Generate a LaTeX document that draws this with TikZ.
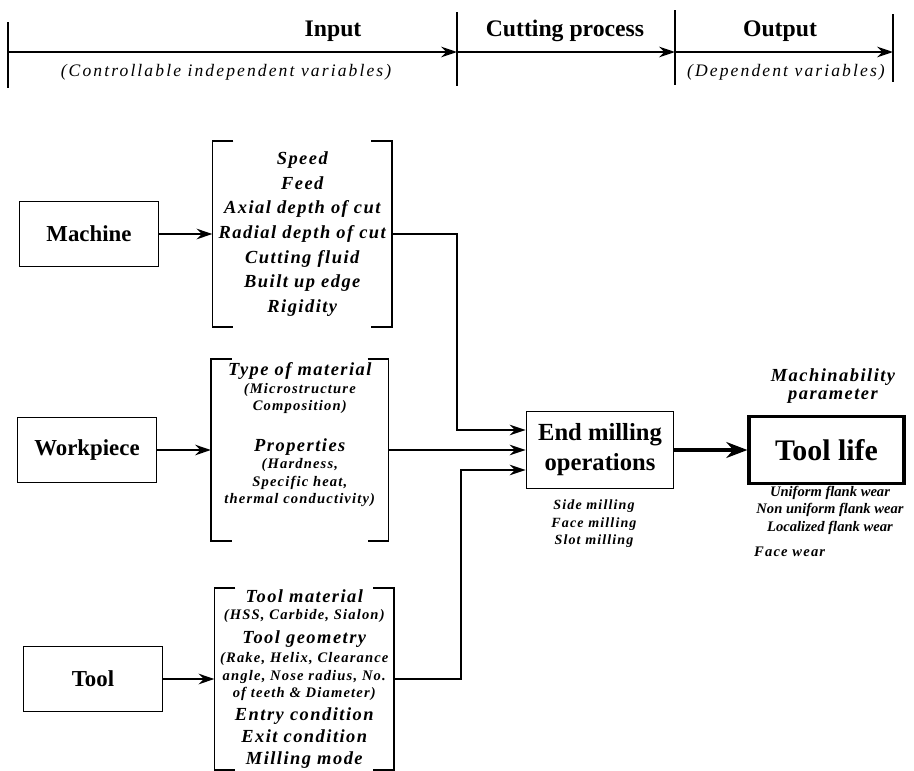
\documentclass[tikz,border=0pt]{standalone}
\usepackage{fontspec}
\setmainfont{Liberation Serif}
\newfontfamily\spacedfont{Liberation Serif}[LetterSpace=8]
\newfontfamily\widefont{Liberation Serif}[LetterSpace=12]
\usetikzlibrary{positioning, arrows.meta, calc}
\tikzset{
  block/.style={rectangle, draw=black, line width=1.1pt, minimum width=2.78cm, minimum height=1.3cm, text centered, font=\fontsize{13}{15}\selectfont\bfseries},
  varlist/.style={rectangle, minimum width=3.58cm, minimum height=3.7cm, inner sep=0pt, align=center, font=\spacedfont\bfseries\itshape\fontsize{10.5}{10}\selectfont},
  header/.style={font=\fontsize{13.5}{15}\selectfont\bfseries},
  subheader/.style={font=\widefont\fontsize{10}{11}\selectfont\itshape},
  note/.style={align=center, font=\spacedfont\fontsize{8}{10}\selectfont\bfseries\itshape},
  bracketline/.style={line width=1pt},
  arrow/.style={line width=1pt, -{Stealth[length=9pt, width=6pt]}},
  bigarrow/.style={line width=2.2pt, -{Stealth[length=12pt, width=9pt]}}
}
\newcommand{\itm}{\fontsize{10.5}{14}\selectfont}
\newcommand{\subtxt}{\fontsize{8.3}{9.6}\selectfont}
\newcommand{\sqbrackets}[1]{%
  \draw[bracketline] ([xshift=0.42cm]#1.north west) -- (#1.north west) -- (#1.south west) -- ++(0.42cm,0);
  \draw[bracketline] ([xshift=-0.42cm]#1.north east) -- (#1.north east) -- (#1.south east) -- ++(-0.42cm,0);}

\begin{document}
\begin{tikzpicture}[x=0.02cm, y=-0.02cm]
    \useasboundingbox (0,0) rectangle (914,771);

    % header
    \coordinate (h0) at (8,52);
    \coordinate (h1) at (457,52);
    \coordinate (h2) at (675,52);
    \coordinate (h3) at (893,52);
    \draw[line width=1.2pt, -{Stealth[length=9pt, width=6pt]}] (h0) -- (h1);
    \draw[line width=1.2pt, -{Stealth[length=9pt, width=6pt]}] (h1) -- (h2);
    \draw[line width=1.2pt, -{Stealth[length=9pt, width=6pt]}] (h2) -- (h3);
    \draw[line width=1pt] (8,22) -- (8,88);
    \draw[line width=1pt] (457,12) -- (457,86);
    \draw[line width=1pt] (675,10) -- (675,85);
    \draw[line width=1pt] (893,14) -- (893,82);
    \node (input) [header] at (333,31) {Input};
    \node (cutting) [header] at (565,31) {Cutting process};
    \node (output) [header] at (780,31) {Output};
    \node (inputsub) [subheader] at (226,72) {(Controllable independent variables)};
    \node (outputsub) [subheader] at (786,72) {(Dependent variables)};

    % inputs
    \node (machine) [block] at (89,234) {Machine};
    \node (workpiece) [block] at (87,450) {Workpiece};
    \node (tool) [block] at (93,679) {Tool};

    \node (mvars) [varlist, right=1.06cm of machine, font=\spacedfont\bfseries\itshape\fontsize{10.5}{14}\selectfont] {Speed\\ Feed\\ Axial depth of cut\\ Radial depth of cut\\ Cutting fluid\\ Built up edge\\ Rigidity};
    \node (wvars) [varlist, right=1.07cm of workpiece, minimum width=3.54cm, minimum height=3.64cm] {\itm Type of material\\ \subtxt (Microstructure\\ \subtxt Composition)\\[13pt] \itm Properties\\ \subtxt (Hardness,\\ \subtxt Specific heat,\\ \subtxt thermal conductivity)\\[9pt]};
    \node (tvars) [varlist, right=1.02cm of tool, minimum height=3.64cm] {\itm Tool material\\ \subtxt (HSS, Carbide, Sialon)\\[3.5pt] \itm Tool geometry\\[1pt] \subtxt (Rake, Helix, Clearance\\ \subtxt angle, Nose radius, No.\\ \subtxt of teeth \& Diameter)\\[3pt] \itm Entry condition\\[2.5pt] \itm Exit condition\\[2.5pt] \itm Milling mode};
    \sqbrackets{mvars}
    \sqbrackets{wvars}
    \sqbrackets{tvars}

    % process and output
    \node (ops) [block, minimum width=2.94cm, minimum height=1.54cm, align=center, font=\fontsize{14}{17}\selectfont\bfseries] at (600,450) {End milling\\ operations};
    \node (life) [block, right=1.46cm of ops, minimum width=3.1cm, minimum height=1.34cm, line width=1.8pt, font=\fontsize{17}{20}\selectfont\bfseries] {Tool life};
    \node (opsnote) [note] at (594,524) {Side milling\\ Face milling\\ Slot milling};
    \node (param) [note, font=\spacedfont\fontsize{10.5}{10}\selectfont\bfseries\itshape] at (833,386) {Machinability\\ parameter};
    \node (wearnote) [note, font=\fontsize{8.3}{10}\selectfont\bfseries\itshape] at (830,510) {Uniform flank wear\\ Non uniform flank wear\\ Localized flank wear};
    \node (facewear) [note, anchor=west, font=\spacedfont\fontsize{8.3}{10}\selectfont\bfseries\itshape] at (748,552) {Face wear};

    \draw [arrow] (machine.east) -- (mvars.west);
    \draw [arrow] (workpiece.east) -- (wvars.west);
    \draw [arrow] (tool.east) -- (tvars.west);
    \draw [arrow] (mvars.east) -- ++(1.3cm,0) |- ([yshift=0.4cm]ops.west);
    \draw [arrow] (wvars.east) -- (ops.west);
    \draw [arrow] (tvars.east) -- ++(1.34cm,0) |- ([yshift=-0.4cm]ops.west);
    \draw [bigarrow] (ops.east) -- (life.west);
\end{tikzpicture}
\end{document}
